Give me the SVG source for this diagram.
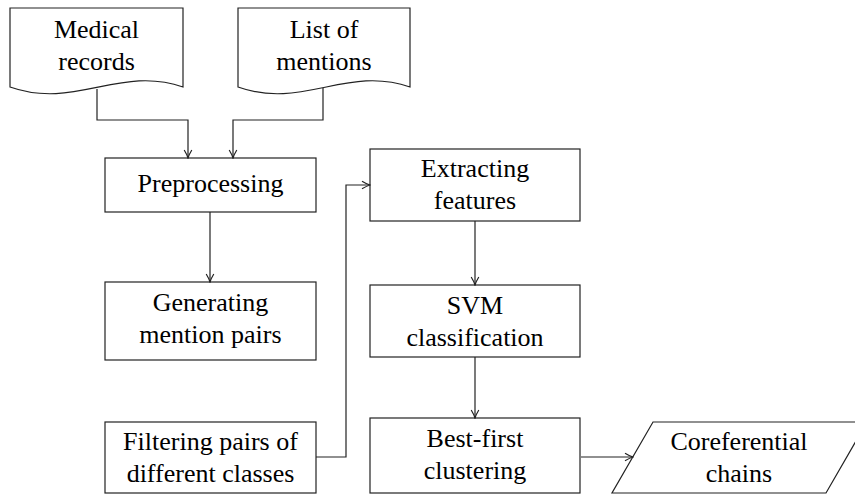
<svg xmlns="http://www.w3.org/2000/svg" width="855" height="494" viewBox="0 0 855 494">
<style>
.n{fill:#fff;stroke:#222;stroke-width:1.2}
.c{fill:none;stroke:#222;stroke-width:1.2}
</style>
<defs>
<marker id="ah" viewBox="-9 -5 10 10" refX="0" refY="0" markerWidth="10" markerHeight="10" markerUnits="userSpaceOnUse" orient="auto">
<path d="M-8,-3.8 Q-3,-0.8 0,0 Q-3,0.8 -8,3.8" fill="none" stroke="#222" stroke-width="1.2"/>
</marker>
</defs>
<rect width="855" height="494" fill="#fff"/>
<g id="medical-records">
<path class="n" d="M10,8 H183 V87 C120,65 75,110 10,87 Z"/>
<text x="96.5" y="38" style="font-family:'Liberation Serif'" font-size="26" text-anchor="middle">Medical</text>
<text x="96.5" y="70" style="font-family:'Liberation Serif'" font-size="26" text-anchor="middle">records</text>
</g>
<g id="list-of-mentions">
<path class="n" d="M238,8 H410 V87 C347,65 302,110 238,87 Z"/>
<text x="324" y="38" style="font-family:'Liberation Serif'" font-size="26" text-anchor="middle">List of</text>
<text x="324" y="70" style="font-family:'Liberation Serif'" font-size="26" text-anchor="middle">mentions</text>
</g>
<g id="preprocessing">
<rect class="n" x="105" y="158" width="211" height="54"/>
<text x="210.5" y="192" style="font-family:'Liberation Serif'" font-size="26" text-anchor="middle">Preprocessing</text>
</g>
<g id="generating">
<rect class="n" x="105" y="282" width="211" height="78"/>
<text x="210.5" y="311" style="font-family:'Liberation Serif'" font-size="26" text-anchor="middle">Generating</text>
<text x="210.5" y="343" style="font-family:'Liberation Serif'" font-size="26" text-anchor="middle">mention pairs</text>
</g>
<g id="filtering">
<rect class="n" x="105" y="422" width="211" height="71"/>
<text x="210.5" y="450" style="font-family:'Liberation Serif'" font-size="26" text-anchor="middle">Filtering pairs of</text>
<text x="210.5" y="482" style="font-family:'Liberation Serif'" font-size="26" text-anchor="middle">different classes</text>
</g>
<g id="extracting">
<rect class="n" x="370" y="149" width="210" height="72"/>
<text x="475" y="177" style="font-family:'Liberation Serif'" font-size="26" text-anchor="middle">Extracting</text>
<text x="475" y="209" style="font-family:'Liberation Serif'" font-size="26" text-anchor="middle">features</text>
</g>
<g id="svm">
<rect class="n" x="370" y="285" width="210" height="72"/>
<text x="475" y="314" style="font-family:'Liberation Serif'" font-size="26" text-anchor="middle">SVM</text>
<text x="475" y="346" style="font-family:'Liberation Serif'" font-size="26" text-anchor="middle">classification</text>
</g>
<g id="best-first">
<rect class="n" x="370" y="418" width="210" height="75"/>
<text x="475" y="447" style="font-family:'Liberation Serif'" font-size="26" text-anchor="middle">Best-first</text>
<text x="475" y="479" style="font-family:'Liberation Serif'" font-size="26" text-anchor="middle">clustering</text>
</g>
<g id="coreferential">
<path class="n" d="M653,422 H867 L826,493 H612 Z"/>
<text x="739" y="450" style="font-family:'Liberation Serif'" font-size="26" text-anchor="middle">Coreferential</text>
<text x="739" y="482" style="font-family:'Liberation Serif'" font-size="26" text-anchor="middle">chains</text>
</g>
<g id="connectors">
<path class="c" d="M97,89 V120 H188 V158" marker-end="url(#ah)"/>
<path class="c" d="M323,88 V120 H233 V158" marker-end="url(#ah)"/>
<path class="c" d="M210,212 V282" marker-end="url(#ah)"/>
<path class="c" d="M316,457 H346 V185 H370" marker-end="url(#ah)"/>
<path class="c" d="M475,221 V285" marker-end="url(#ah)"/>
<path class="c" d="M475,357 V418" marker-end="url(#ah)"/>
<path class="c" d="M581,457 H633" marker-end="url(#ah)"/>
</g>
</svg>
